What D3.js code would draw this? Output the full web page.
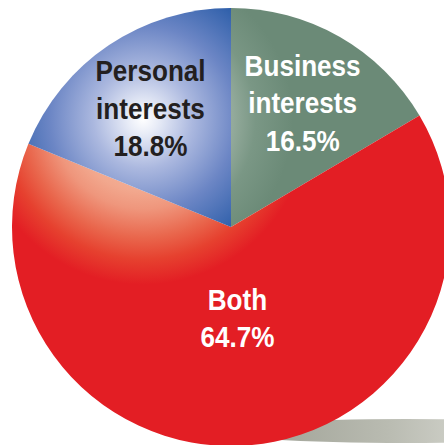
<!DOCTYPE html>
<html>
<head>
<meta charset="utf-8">
<script src="https://cdn.jsdelivr.net/npm/d3@7"></script>
<style>
  html, body { margin: 0; padding: 0; background: #ffffff; }
  svg { display: block; }
  .lbl { font-family: "Liberation Sans", Arial, Helvetica, sans-serif; font-weight: bold; font-size: 30px; }
</style>
</head>
<body>
<svg id="chart" width="444" height="445"></svg>
<script>
// Share of respondents by type of interest (clockwise from 12 o'clock)
const categories = ["Business interests", "Both", "Personal interests"];
const labelLines = [["Business", "interests", "16.5%"], ["Both", "64.7%"], ["Personal", "interests", "18.8%"]];
const values = [16.5, 64.7, 18.8];

const W = 444, H = 445;
const cx = 231, cy = 227, R = 219;

const svg = d3.select("#chart");
const defs = svg.append("defs");

// Highlight centre shared by the glossy gradients (pie-local coordinates)
const hx = -88, hy = -108;

function radial(id, r, stops) {
  const g = defs.append("radialGradient")
    .attr("id", id)
    .attr("gradientUnits", "userSpaceOnUse")
    .attr("cx", hx).attr("cy", hy).attr("fx", hx).attr("fy", hy).attr("r", r);
  stops.forEach(([o, c]) => g.append("stop").attr("offset", o).attr("stop-color", c));
}

radial("g-business", 150, [[0, "#b7c7bc"], [0.6, "#93aa9b"], [0.75, "#7a9785"], [1, "#6b8a77"]]);
radial("g-both", 180, [[0, "#f8c9b4"], [0.4, "#f2a88e"], [0.5, "#ef967c"], [0.66, "#e9664c"], [0.78, "#e6412f"], [0.92, "#e31e24"], [1, "#e31e24"]]);
radial("g-personal", 150, [[0, "#ffffff"], [0.1, "#e8ecf7"], [0.33, "#abb8df"], [0.62, "#6c86c5"], [1, "#2358a5"]]);

const fills = ["url(#g-business)", "url(#g-both)", "url(#g-personal)"];
const textColors = ["#ffffff", "#ffffff", "#231f20"];

// Soft floor shadow beneath the pie
const sh = defs.append("linearGradient").attr("id", "g-shadow")
  .attr("x1", 0).attr("x2", 1).attr("y1", 0).attr("y2", 0);
sh.append("stop").attr("offset", 0).attr("stop-color", "#979a8e");
sh.append("stop").attr("offset", 0.45).attr("stop-color", "#b9bbb1");
sh.append("stop").attr("offset", 1).attr("stop-color", "#f4f4f0");

svg.append("ellipse")
  .attr("cx", cx + 175).attr("cy", cy + 204)
  .attr("rx", 190).attr("ry", 12)
  .attr("fill", "url(#g-shadow)");

const pie = d3.pie().sort(null).value(d => d)(values);
const arc = d3.arc().innerRadius(0).outerRadius(R);

const g = svg.append("g").attr("transform", `translate(${cx},${cy})`);

g.selectAll("path.slice")
  .data(pie)
  .join("path")
  .attr("class", "slice")
  .attr("d", arc)
  .attr("fill", (d, i) => fills[i]);

// Labels: small slices sit further out, the large slice nearer the centre
const labelR = d => (d.endAngle - d.startAngle) > Math.PI ? 0.41 * R : 0.66 * R;
const lineH = 37.5;
const squeeze = 0.87; // condensed letterforms

pie.forEach((d, i) => {
  const a = (d.startAngle + d.endAngle) / 2;
  const r = labelR(d);
  const x = r * Math.sin(a), y = -r * Math.cos(a);
  const lines = labelLines[i];
  const first = y + 12 - (lines.length - 1) / 2 * lineH;
  const t = g.append("g")
    .attr("transform", `translate(${x},0)`)
    .append("text")
    .attr("class", "lbl")
    .attr("transform", `scale(${squeeze},1)`)
    .attr("text-anchor", "middle")
    .attr("fill", textColors[i]);
  lines.forEach((s, k) => {
    t.append("tspan").attr("x", 0).attr("y", first + k * lineH).text(s);
  });
});
</script>
</body>
</html>
